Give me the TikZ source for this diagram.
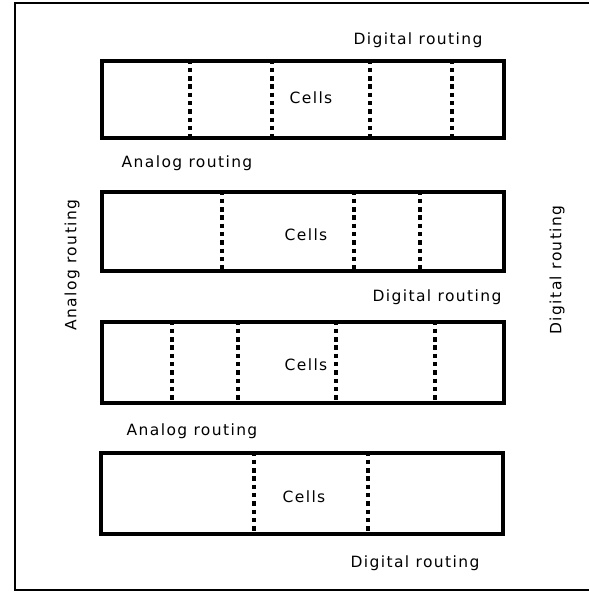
\documentclass[tikz,border=0pt]{standalone}
\usepackage{fontspec}
\setmainfont{DejaVu Sans}[LetterSpace=9]
\begin{document}
\begin{tikzpicture}[x=1pt,y=-1pt,
  cellrow/.style={draw, line width=3.2pt, minimum width=402pt, inner sep=0pt},
  sep/.style={line width=3.2pt, dash pattern=on 4.5pt off 3.8pt},
  lbl/.style={font=\fontsize{15.5}{17}\selectfont, inner sep=0pt},
  frame/.style={line width=1.8pt}]
  \useasboundingbox (0,0) rectangle (589,594);
  % outer frame (open on the right)
  \coordinate (ftl) at (15,3);
  \coordinate (ftr) at (589,3);
  \coordinate (fbl) at (15,590);
  \coordinate (fbr) at (589,590);
  \draw[frame] (ftr) -- (ftl) -- (fbl) -- (fbr);

  % rows of cells
  \node[cellrow, minimum height=77pt] (r1) at (303,99.5) {};
  \node[cellrow, minimum height=79pt] (r2) at (303,231.5) {};
  \node[cellrow, minimum height=81pt] (r3) at (303,362.5) {};
  \node[cellrow, minimum height=81pt] (r4) at (302,493.5) {};

  % cell boundaries
  \foreach \x in {190,272,370,452} \draw[sep] (r1.north -| \x,0) -- (r1.south -| \x,0);
  \foreach \x in {222,354,420} \draw[sep] (r2.north -| \x,0) -- (r2.south -| \x,0);
  \foreach \x in {172,238,336,435} \draw[sep] (r3.north -| \x,0) -- (r3.south -| \x,0);
  \foreach \x in {254,368} \draw[sep] (r4.north -| \x,0) -- (r4.south -| \x,0);

  % cell labels
  \node[lbl] (c1) at (311,98) {Cells};
  \node[lbl] (c2) at (306,235) {Cells};
  \node[lbl] (c3) at (306,365) {Cells};
  \node[lbl] (c4) at (304,497) {Cells};

  % routing channels
  \node[lbl] (d1) at (418,40) {Digital routing};
  \node[lbl] (a1) at (187,163) {Analog routing};
  \node[lbl] (d2) at (437,297) {Digital routing};
  \node[lbl] (a2) at (192,431) {Analog routing};
  \node[lbl] (d3) at (415,563) {Digital routing};
  \node[lbl, rotate=90] (av) at (72,265) {Analog routing};
  \node[lbl, rotate=90] (dv) at (557,270) {Digital routing};
\end{tikzpicture}
\end{document}
